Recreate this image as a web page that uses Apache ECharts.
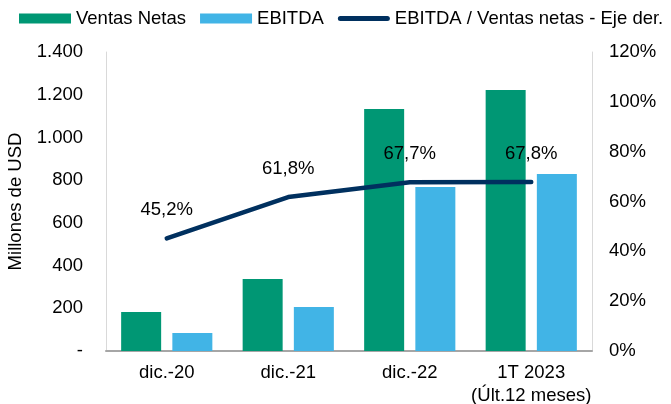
<!DOCTYPE html>
<html>
<head>
<meta charset="utf-8">
<script src="https://cdn.jsdelivr.net/npm/echarts@6/dist/echarts.min.js"></script>
<style>
  html, body { margin: 0; padding: 0; background: #fff; }
  #chart { width: 671px; height: 404px; }
</style>
</head>
<body>
<div id="chart"></div>
<script>
const categories = ['dic.-20', 'dic.-21', 'dic.-22', '1T 2023\n(Últ.12 meses)']
const ventasNetas = [183, 337, 1133, 1222]
const ebitda = [84, 206, 768, 829]
const margen = [45.2, 61.8, 67.7, 67.8]

const green = '#009774'
const blue = '#41B4E6'
const navy = '#00305F'
const font = 'Liberation Sans, Arial, sans-serif'
const fs = 18.5

const chart = echarts.init(document.getElementById('chart'))

const option = {
  animation: false,
  textStyle: { fontFamily: font },
  legend: {
    left: 19,
    top: 9,
    width: 652,
    padding: 0,
    itemWidth: 52,
    itemHeight: 10,
    itemGap: 14,
    textStyle: { fontSize: fs, color: '#000', fontFamily: font },
    data: [
      { name: 'Ventas Netas', icon: 'rect' },
      { name: 'EBITDA', icon: 'rect' },
      {
        name: 'EBITDA / Ventas netas - Eje der.',
        icon: 'path://M2.5,0 L49.5,0 A2.5,2.5 0 0 1 49.5,5 L2.5,5 A2.5,2.5 0 0 1 2.5,0 Z'
      }
    ]
  },
  grid: { left: 106, right: 79, top: 52, bottom: 53, outerBoundsMode: 'none' },
  xAxis: {
    type: 'category',
    data: categories,
    axisLine: { lineStyle: { color: '#a6a6a6', width: 2 } },
    axisTick: { show: false },
    axisLabel: { interval: 0, color: '#000', fontSize: fs, lineHeight: 23, margin: 10, fontFamily: font }
  },
  yAxis: [
    {
      type: 'value',
      min: 0,
      max: 1400,
      interval: 200,
      name: 'Millones de USD',
      nameLocation: 'middle',
      nameGap: 77,
      nameRotate: 90,
      nameTextStyle: { color: '#000', fontSize: fs, fontFamily: font },
      axisLine: { show: true, lineStyle: { color: '#d9d9d9' } },
      axisTick: { show: false },
      splitLine: { show: false },
      axisLabel: {
        color: '#000',
        fontSize: fs,
        margin: 23,
        fontFamily: font,
        formatter: function (v) {
          if (v === 0) return '-'
          return String(v).replace(/\B(?=(\d{3})+(?!\d))/g, '.')
        }
      }
    },
    {
      type: 'value',
      min: 0,
      max: 120,
      interval: 20,
      position: 'right',
      axisLine: { show: true, lineStyle: { color: '#d9d9d9' } },
      axisTick: { show: false },
      splitLine: { show: false },
      axisLabel: { color: '#000', fontSize: fs, margin: 17, fontFamily: font, formatter: '{value}%' }
    }
  ],
  series: [
    {
      name: 'Ventas Netas',
      type: 'bar',
      data: ventasNetas,
      barWidth: 40,
      barGap: '28%',
      itemStyle: { color: green }
    },
    {
      name: 'EBITDA',
      type: 'bar',
      data: ebitda,
      barWidth: 40,
      itemStyle: { color: blue }
    },
    {
      name: 'EBITDA / Ventas netas - Eje der.',
      type: 'line',
      yAxisIndex: 1,
      data: margen,
      symbol: 'circle',
      symbolSize: 1,
      showSymbol: true,
      lineStyle: { color: navy, width: 4.5, cap: 'round' },
      itemStyle: { color: navy },
      label: {
        show: true,
        position: 'top',
        distance: 18,
        color: '#000',
        fontSize: fs,
        fontFamily: font,
        formatter: function (p) { return p.value.toFixed(1).replace('.', ',') + '%' }
      }
    }
  ]
}

chart.setOption(option)
</script>
</body>
</html>
